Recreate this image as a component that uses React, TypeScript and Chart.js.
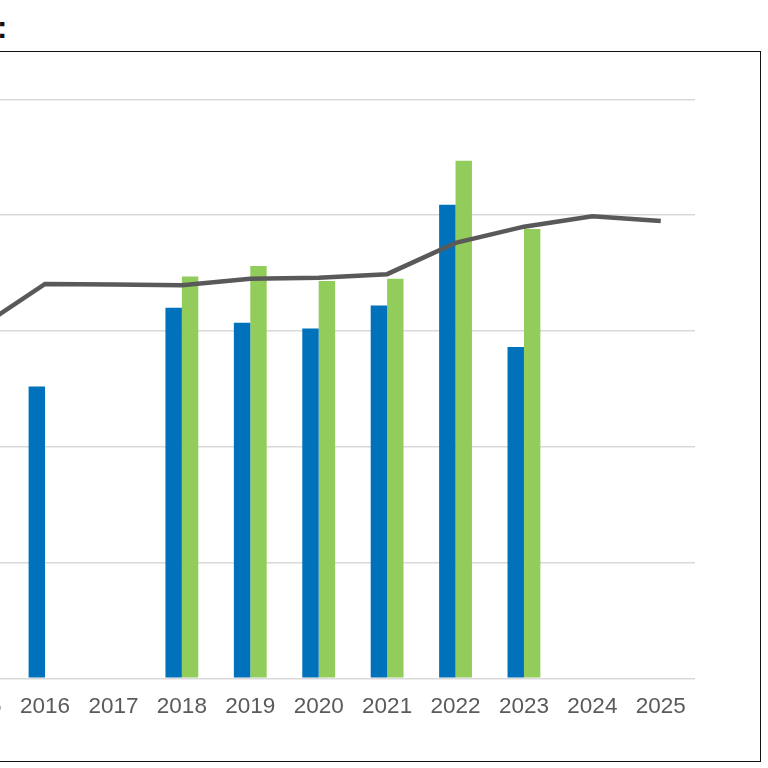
import React, { useEffect, useRef } from "react";
import { Chart, registerables } from "chart.js";

Chart.register(...registerables);

const years = ["2015", "2016", "2017", "2018", "2019", "2020", "2021", "2022", "2023", "2024", "2025"];
const blueValues = [null, 25.2, null, 32.0, 30.7, 30.2, 32.2, 40.9, 28.6, null, null];
const greenValues = [null, null, null, 34.7, 35.6, 34.3, 34.5, 44.7, 38.8, null, null];
const lineValues = [30.1, 34.05, 34.0, 33.95, 34.5, 34.6, 34.9, 37.6, 39.0, 39.9, 39.5];
const yMin = 0;
const yMax = 50;
const yStep = 10;

export default function App() {
  const ref = useRef<HTMLCanvasElement | null>(null);

  useEffect(() => {
    if (!ref.current) return;
    const chart = new Chart(ref.current, {
      type: "bar",
      data: {
        labels: years,
        datasets: [
          {
            type: "line",
            label: "Line",
            data: lineValues,
            borderColor: "#595959",
            backgroundColor: "#595959",
            borderWidth: 4.5,
            pointRadius: 0,
            tension: 0,
            order: 0,
          } as any,
          {
            label: "Blue",
            data: blueValues,
            backgroundColor: "#0072BB",
            categoryPercentage: 0.48,
            barPercentage: 1,
            order: 1,
          },
          {
            label: "Green",
            data: greenValues,
            backgroundColor: "#92CD5C",
            categoryPercentage: 0.48,
            barPercentage: 1,
            order: 1,
          },
        ],
      },
      options: {
        responsive: false,
        animation: false,
        layout: { padding: { left: 42.4, right: 45, top: 39.3, bottom: 0 } },
        plugins: { legend: { display: false }, tooltip: { enabled: false } },
        scales: {
          x: {
            grid: { display: false, drawTicks: false },
            border: { display: false },
            ticks: {
              color: "#5a5a5a",
              font: { family: "'Liberation Sans', Arial, sans-serif", size: 22.5 },
              padding: 15,
              maxRotation: 0,
              autoSkip: false,
            },
            afterFit: (scale: any) => {
              scale.height = 71.7;
            },
          },
          y: {
            min: yMin,
            max: yMax,
            ticks: { display: false, stepSize: yStep },
            grid: { color: "#d9d9d9", lineWidth: 1.5, drawTicks: false },
            border: { display: false },
            afterFit: (scale: any) => {
              scale.width = 0;
            },
          },
        },
      },
    });
    return () => chart.destroy();
  }, []);

  return (
    <div
      style={{
        position: "fixed",
        left: 0,
        top: 0,
        width: 768,
        height: 768,
        overflow: "hidden",
        background: "#fff",
      }}
    >
      <div
        style={{
          position: "absolute",
          left: -3,
          top: 12.25,
          fontFamily: "'Liberation Sans', Arial, sans-serif",
          fontSize: 31,
          fontWeight: "bold",
          color: "#111",
          lineHeight: "31px",
        }}
      >
        :
      </div>
      <canvas
        ref={ref}
        width={840}
        height={690}
        style={{ position: "absolute", left: -100, top: 60, width: 840, height: 690 }}
      />
      <div
        style={{
          position: "absolute",
          left: -10,
          top: 50.5,
          width: 770.5,
          height: 711,
          boxSizing: "border-box",
          border: "1.5px solid #111",
          pointerEvents: "none",
        }}
      />
    </div>
  );
}
